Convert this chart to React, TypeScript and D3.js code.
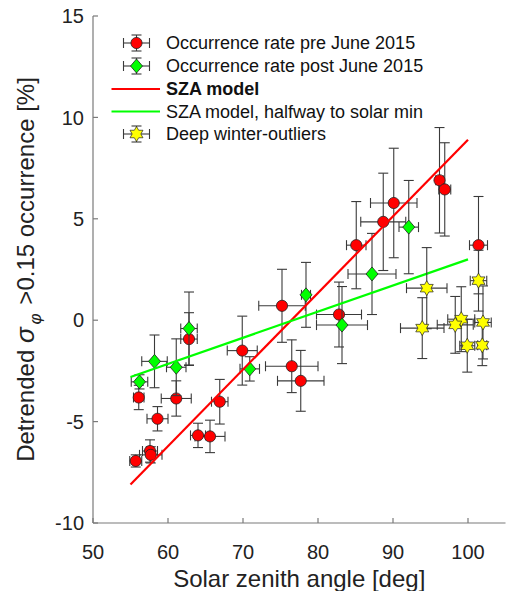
import React from 'react';
import * as d3 from 'd3';

// pre June 2015 (red circles)
const preX = [55.7, 57.6, 57.7, 56.1, 58.6, 61.1, 62.8, 64.0, 65.6, 66.9, 69.9, 76.5, 77.7, 75.2, 82.8, 85.1, 88.7, 90.1, 96.2, 96.9, 101.4];
const preY = [-6.94, -6.45, -6.64, -3.81, -4.86, -3.86, -0.93, -5.68, -5.73, -4.02, -1.5, -2.27, -2.99, 0.71, 0.28, 3.7, 4.85, 5.78, 6.9, 6.45, 3.7];
const preXErr = [0.8, 1.0, 1.5, 0.7, 1.4, 2.0, 1.1, 1.0, 2.0, 1.1, 2.0, 3.5, 3.1, 3.1, 3.0, 1.3, 3.0, 3.1, 0.5, 0.8, 1.2];
const preYErr = [0.3, 0.55, 0.4, 0.6, 0.6, 0.87, 1.3, 0.6, 0.8, 1.1, 1.7, 1.3, 1.5, 1.8, 1.6, 2.15, 2.4, 2.7, 2.6, 2.3, 2.4];

// post June 2015 (green diamonds)
const postX = [56.2, 58.2, 61.1, 62.8, 70.9, 78.4, 83.2, 87.2, 92.1];
const postY = [-3.04, -2.03, -2.32, -0.41, -2.4, 1.25, -0.24, 2.28, 4.59];
const postXErr = [1.1, 1.7, 1.3, 1.1, 1.3, 0.6, 3.4, 3.2, 1.3];
const postYErr = [0.35, 1.3, 1.4, 1.8, 0.6, 1.6, 1.9, 2.0, 2.3];

// deep winter outliers (yellow hexagrams)
const winterX = [94.5, 93.9, 101.4, 99.1, 98.3, 102.0, 99.9, 101.9];
const winterY = [1.58, -0.39, 1.95, 0.05, -0.23, -0.11, -1.26, -1.24];
const winterXErr = [2.7, 2.9, 1.1, 1.8, 2.4, 1.1, 1.0, 0.6];
const winterYErr = [2.0, 1.5, 1.5, 1.6, 1.4, 1.8, 1.3, 1.0];

// model lines
const modelX = [55, 100];
const szaY = [-8.1, 8.9];
const halfwayY = [-2.8, 3.0];

const xTicks = [50, 60, 70, 80, 90, 100];
const yTicks = [-10, -5, 0, 5, 10, 15];

const legendLabels = [
  'Occurrence rate pre June 2015',
  'Occurrence rate post June 2015',
  'SZA model',
  'SZA model, halfway to solar min',
  'Deep winter-outliers',
];

const W = 509;
const H = 591;
const FONT = '"Liberation Sans", Arial, sans-serif';
const BAR = '#3a3a3a';

const x = d3.scaleLinear().domain([50, 105]).range([93, 505.5]);
const y = d3.scaleLinear().domain([-10, 15]).range([523, 16]);

function hexagram(r: number) {
  const pts: [number, number][] = [];
  for (let i = 0; i < 12; i++) {
    const a = -Math.PI / 2 + (i * Math.PI) / 6;
    const rr = i % 2 === 0 ? r : r / Math.sqrt(3);
    pts.push([rr * Math.cos(a), rr * Math.sin(a)]);
  }
  return d3.line()(pts) + 'Z';
}

const diamond = 'M0,-7L6,0L0,7L-6,0Z';
const star = hexagram(7.5);

function ErrBars({ cx, cy, x0, x1, y0, y1 }: any) {
  const c = 5;
  return (
    <g stroke={BAR} strokeWidth={1.1} fill="none">
      <line x1={x0} x2={x1} y1={cy} y2={cy} />
      <line x1={x0} x2={x0} y1={cy - c} y2={cy + c} />
      <line x1={x1} x2={x1} y1={cy - c} y2={cy + c} />
      <line x1={cx} x2={cx} y1={y0} y2={y1} />
      <line x1={cx - c} x2={cx + c} y1={y0} y2={y0} />
      <line x1={cx - c} x2={cx + c} y1={y1} y2={y1} />
    </g>
  );
}

function Marker({ kind, cx, cy }: any) {
  if (kind === 'circle') return <circle cx={cx} cy={cy} r={5.6} fill="#ff0000" stroke="#222" strokeWidth={0.8} />;
  if (kind === 'diamond') return <path d={diamond} transform={`translate(${cx},${cy})`} fill="#00ff00" stroke="#222" strokeWidth={0.8} />;
  return <path d={star} transform={`translate(${cx},${cy})`} fill="#ffff00" stroke="#222" strokeWidth={0.7} />;
}

function Series({ xs, ys, xe, ye, kind }: any) {
  return (
    <g>
      {xs.map((v: number, i: number) => (
        <ErrBars key={'e' + i} cx={x(v)} cy={y(ys[i])} x0={x(v - xe[i])} x1={x(v + xe[i])} y0={y(ys[i] + ye[i])} y1={y(ys[i] - ye[i])} />
      ))}
      {xs.map((v: number, i: number) => (
        <Marker key={'m' + i} kind={kind} cx={x(v)} cy={y(ys[i])} />
      ))}
    </g>
  );
}

export default function App() {
  const line = d3.line<number>().x((d, i) => x(modelX[i])).y((d) => y(d));
  const rowY = [43, 66, 89, 111.5, 134];
  const legMarkX = 136.5;

  return (
    <svg width={W} height={H} style={{ position: 'absolute', left: 0, top: 0, background: '#fff' }} fontFamily={FONT}>
      <rect width={W} height={H} fill="#fff" />

      {/* axes */}
      <g stroke="#7a7a7a" strokeWidth={1.2}>
        <line x1={x(50)} x2={x(50)} y1={y(15)} y2={y(-10)} />
        <line x1={x(50)} x2={x(105)} y1={y(-10)} y2={y(-10)} />
        {yTicks.map((t) => (
          <line key={'yt' + t} x1={x(50)} x2={x(50) + 5} y1={y(t)} y2={y(t)} />
        ))}
        {xTicks.map((t) => (
          <line key={'xt' + t} x1={x(t)} x2={x(t)} y1={y(-10)} y2={y(-10) - 5} />
        ))}
      </g>
      <g fontSize={20} fill="#222">
        {yTicks.map((t) => (
          <text key={'yl' + t} x={84} y={y(t)} dy="0.36em" textAnchor="end">{t}</text>
        ))}
        {xTicks.map((t) => (
          <text key={'xl' + t} x={x(t)} y={559} textAnchor="middle">{t}</text>
        ))}
      </g>
      <text x={x(77.5)} y={587} fontSize={24} textAnchor="middle" fill="#222">Solar zenith angle [deg]</text>
      <text transform={`translate(34,${y(2.5)}) rotate(-90)`} fontSize={24} textAnchor="middle" fill="#222">
        Detrended <tspan fontStyle="italic" fontSize={26}>σ</tspan>
        <tspan fontStyle="italic" fontSize={17} dx={3} dy={7}>φ</tspan>
        <tspan dx={2} dy={-7}>{' >0.15 occurrence [%]'}</tspan>
      </text>

      {/* data */}
      <Series xs={preX} ys={preY} xe={preXErr} ye={preYErr} kind="circle" />
      <Series xs={postX} ys={postY} xe={postXErr} ye={postYErr} kind="diamond" />
      <path d={line(szaY) || ''} stroke="#ff0000" strokeWidth={2.2} fill="none" />
      <path d={line(halfwayY) || ''} stroke="#00ff00" strokeWidth={2.2} fill="none" />
      <Series xs={winterX} ys={winterY} xe={winterXErr} ye={winterYErr} kind="star" />

      {/* legend */}
      <g>
        {[0, 1, 4].map((k) => (
          <g key={'lm' + k}>
            <ErrBars cx={legMarkX} cy={rowY[k]} x0={legMarkX - 13} x1={legMarkX + 13} y0={rowY[k] - 8} y1={rowY[k] + 8} />
            <Marker kind={k === 0 ? 'circle' : k === 1 ? 'diamond' : 'star'} cx={legMarkX} cy={rowY[k]} />
          </g>
        ))}
        <line x1={111.5} x2={160} y1={rowY[2]} y2={rowY[2]} stroke="#ff0000" strokeWidth={2.2} />
        <line x1={111.5} x2={160} y1={rowY[3]} y2={rowY[3]} stroke="#00ff00" strokeWidth={2.2} />
        {legendLabels.map((s, k) => (
          <text key={'lt' + k} x={166} y={rowY[k]} dy="0.36em" fontSize={18} fontWeight={k === 2 ? 'bold' : 'normal'} fill="#111">{s}</text>
        ))}
      </g>
    </svg>
  );
}
